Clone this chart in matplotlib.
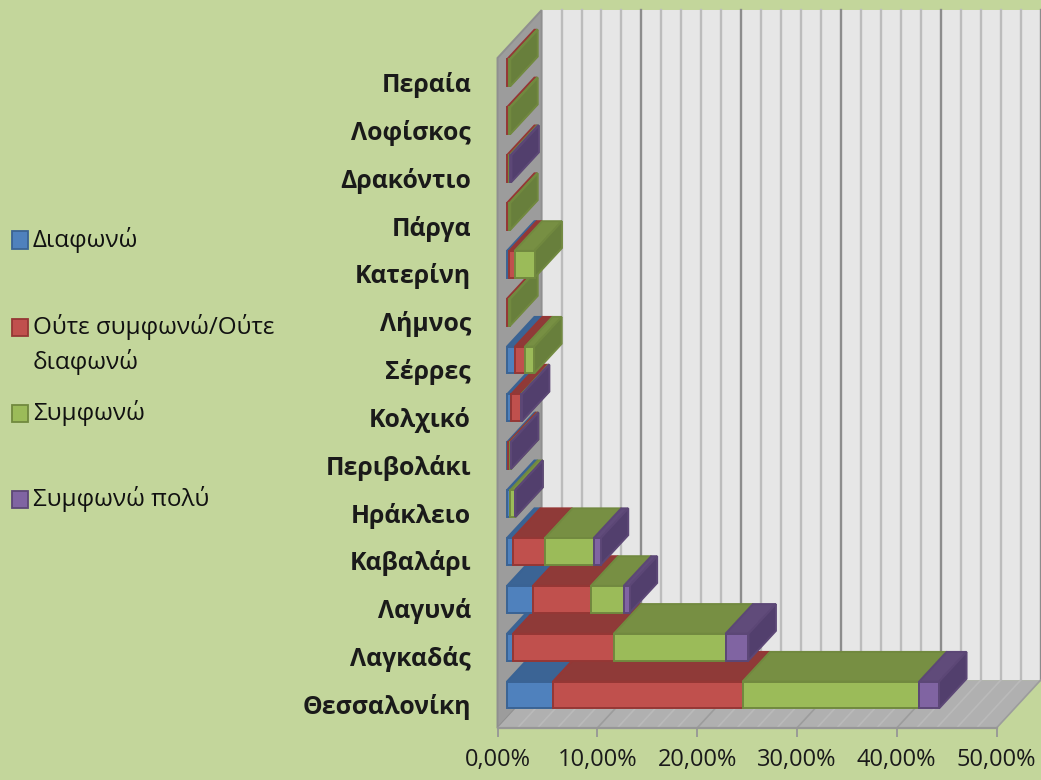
import numpy as np
import matplotlib
matplotlib.use("Agg")
import matplotlib.pyplot as plt
from matplotlib.patches import Polygon, Rectangle

# data, bottom to top of the chart
places = ["Θεσσαλονίκη", "Λαγκαδάς", "Λαγυνά", "Καβαλάρι", "Ηράκλειο", "Περιβολάκι", "Κολχικό",
          "Σέρρες", "Λήμνος", "Κατερίνη", "Πάργα", "Δρακόντιο", "Λοφίσκος", "Περαία"]
diafono = [4.6, 0.6, 2.6, 0.6, 0.33, 0.15, 0.4, 0.8, 0.0, 0.23, 0.0, 0.0, 0.0, 0.0]
oute = [19.0, 10.1, 5.8, 3.2, 0.0, 0.2, 1.0, 1.0, 0.25, 0.53, 0.25, 0.25, 0.25, 0.25]
symfono = [17.7, 11.2, 3.3, 4.9, 0.5, 0.03, 0.05, 0.93, 0.08, 2.0, 0.08, 0.1, 0.08, 0.08]
poly = [2.0, 2.3, 0.6, 0.7, 0.02, 0.02, 0.05, 0.0, 0.0, 0.0, 0.0, 0.1, 0.0, 0.0]

series = [diafono, oute, symfono, poly]
names = ["Διαφωνώ", "Ούτε συμφωνώ/Ούτε\nδιαφωνώ", "Συμφωνώ", "Συμφωνώ πολύ"]
x_ticks = [0, 10, 20, 30, 40, 50]
x_labels = ["0,00%", "10,00%", "20,00%", "30,00%", "40,00%", "50,00%"]

# front, edge, top, side colours for each series
front_col = ["#4f81bd", "#c0504d", "#9bbb59", "#8064a2"]
edge_col = ["#3a6394", "#953735", "#71893f", "#5c4776"]
top_col = ["#3b6495", "#8f3a38", "#778f43", "#604b7a"]
side_col = ["#34587f", "#7c3230", "#687f3c", "#523f6d"]
bg = "#c3d69b"

W, H = 1041, 780
plt.rcParams["font.family"] = ["Open Sans", "Noto Sans", "DejaVu Sans"]
fig = plt.figure(figsize=(W / 100, H / 100), dpi=100, facecolor=bg)

# axes is the front of the box, 0-50% by the 14 categories
ax = fig.add_axes([497.5 / W, 1 - 728 / H, (996.5 - 497.5) / W, (728 - 58) / H])
ax.set_xlim(0, 50)
ax.set_ylim(0, 14)
ax.set_facecolor("none")
for s in ax.spines.values():
    s.set_visible(False)

# oblique offsets, data units
box_dx, box_dy = 4.42, 1.0
gap_dx, gap_dy = 0.95, 0.19
bar_dx, bar_dy = 2.75, 0.62
bar_h = 0.56

def poly_face(pts, color, edge, z, lw=1.4):
    ax.add_patch(Polygon(pts, closed=True, facecolor=color, edgecolor=edge, lw=lw, zorder=z, clip_on=False))

# walls
poly_face([(box_dx, box_dy), (50 + box_dx, box_dy), (50 + box_dx, 14 + box_dy), (box_dx, 14 + box_dy)], "#e6e6e6", "#e6e6e6", 1, 0)
poly_face([(0, 0), (box_dx, box_dy), (box_dx, 14 + box_dy), (0, 14)], "#9c9c9c", "#8f8f8f", 2)
poly_face([(0, 0), (50, 0), (50 + box_dx, box_dy), (box_dx, box_dy)], "#b0b0b0", "#b0b0b0", 2, 0)

# gridlines on back wall and floor
for g in range(2, 51, 2):
    major = g in x_ticks
    c = "#8c8c8c" if major else "#bcbcbc"
    ax.plot([g + box_dx, g + box_dx], [box_dy, 14 + box_dy], color=c, lw=1.7, zorder=1.5, clip_on=False)
    c = "#9c9c9c" if major else "#bababa"
    ax.plot([g, g + box_dx], [0, box_dy], color=c, lw=1.2, zorder=2.5, clip_on=False)
ax.plot([0, 50], [0, 0], color="#969696", lw=1.6, zorder=3, clip_on=False)

# bars, the upper categories sit over the lower ones
for i in range(len(places)):
    y_bot = i + 0.5 + gap_dy - bar_h / 2
    y_top = y_bot + bar_h
    left = gap_dx
    for k in range(4):
        v = series[k][i]
        if v <= 0:
            continue
        right = left + v
        z = 10 + i + k * 0.1
        poly_face([(left, y_top), (right, y_top), (right + bar_dx, y_top + bar_dy), (left + bar_dx, y_top + bar_dy)],
                  top_col[k], edge_col[k], z)
        poly_face([(right, y_bot), (right, y_top), (right + bar_dx, y_top + bar_dy), (right + bar_dx, y_bot + bar_dy)],
                  side_col[k], edge_col[k], z)
        ax.barh(i + 0.5 + gap_dy, v, left=left, height=bar_h, color=front_col[k], edgecolor=edge_col[k],
                linewidth=1.4, zorder=z + 0.05, clip_on=False)
        left = right

ax.set_xticks(x_ticks)
ax.set_xticklabels(x_labels, fontsize=17, color="#1a1a1a")
ax.tick_params(axis="x", length=6.5, width=1.3, color="#969696", pad=8)
ax.set_yticks(np.arange(len(places)) + 0.5)
ax.set_yticklabels(places, fontsize=17.8, fontweight="bold", color="#1a1a1a")
ax.tick_params(axis="y", length=0, pad=19)

# legend, by hand because the entries are evenly spaced whatever their height
legend_y = [240, 327, 413, 499]
for k in range(4):
    fig.add_artist(Rectangle((11.5 / W, 1 - (legend_y[k] + 8.5) / H), 16 / W, 17 / H, transform=fig.transFigure,
                             facecolor=front_col[k], edgecolor=edge_col[k], lw=1.3))
    fig.text(33 / W, 1 - (legend_y[k] - 13) / H, names[k], fontsize=17.5, color="#111111", va="top", linespacing=1.46)

fig.savefig("out.png", dpi=100, facecolor=bg)
